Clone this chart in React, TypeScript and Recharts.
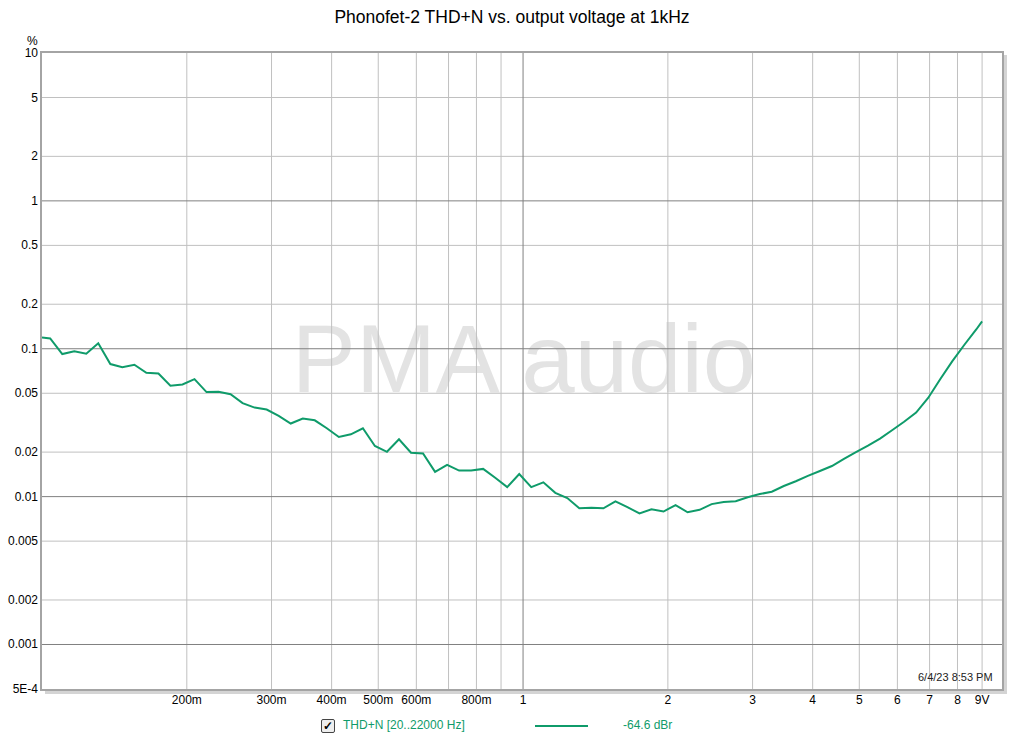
import React from 'react';
import { LineChart, Line, XAxis, YAxis, ReferenceLine } from 'recharts';

// output voltage (V) of each measured point
const voltages = [
  0.1, 0.104, 0.1102, 0.1167, 0.1236, 0.1309, 0.1387, 0.1469, 0.1556, 0.1648,
  0.1746, 0.1849, 0.1959, 0.2075, 0.2198, 0.2328, 0.2466, 0.2612, 0.2767, 0.2931,
  0.3105, 0.3289, 0.3484, 0.369, 0.3909, 0.4141, 0.4386, 0.4646, 0.4921, 0.5213,
  0.5522, 0.5849, 0.6196, 0.6563, 0.6952, 0.7364, 0.78, 0.8262, 0.8752, 0.927,
  0.982, 1.04, 1.102, 1.167, 1.236, 1.309, 1.387, 1.469, 1.556, 1.648,
  1.746, 1.849, 1.959, 2.075, 2.198, 2.328, 2.466, 2.612, 2.767, 2.931,
  3.105, 3.289, 3.484, 3.69, 3.909, 4.141, 4.386, 4.646, 4.921, 5.213,
  5.522, 5.849, 6.196, 6.563, 6.952, 7.364, 7.8, 8.262, 8.752, 9.0,
];

// THD+N in %
const thdn = [
  0.1193, 0.1175, 0.092, 0.096, 0.0925, 0.109, 0.0788, 0.0751, 0.0779, 0.0688,
  0.068, 0.0562, 0.0573, 0.0623, 0.0509, 0.0511, 0.0493, 0.0429, 0.04, 0.0388,
  0.0352, 0.0312, 0.0337, 0.0328, 0.029, 0.0253, 0.0264, 0.029, 0.022, 0.0201,
  0.0244, 0.0198, 0.0196, 0.0147, 0.0164, 0.015, 0.015, 0.0154, 0.0134, 0.0116,
  0.0142, 0.0116, 0.0125, 0.0106, 0.00977, 0.00833, 0.00842, 0.00833, 0.00928, 0.00848,
  0.00769, 0.00822, 0.00793, 0.00877, 0.00784, 0.00814, 0.0089, 0.00918, 0.0093, 0.0099,
  0.0104, 0.0108, 0.0118, 0.0127, 0.0138, 0.0149, 0.0161, 0.018, 0.02, 0.0221,
  0.0247, 0.0281, 0.0321, 0.037, 0.0465, 0.0622, 0.0822, 0.106, 0.135, 0.153,
];

const xTicks = [0.2, 0.3, 0.4, 0.5, 0.6, 0.8, 1, 2, 3, 4, 5, 6, 7, 8, 9];
const xTickLabels = ['200m', '300m', '400m', '500m', '600m', '800m', '1', '2', '3', '4', '5', '6', '7', '8', '9V'];
const xMinorGrid = [0.2, 0.3, 0.4, 0.5, 0.6, 0.7, 0.8, 0.9, 2, 3, 4, 5, 6, 7, 8, 9];
const xMajorGrid = [1];

const yTicks = [0.0005, 0.001, 0.002, 0.005, 0.01, 0.02, 0.05, 0.1, 0.2, 0.5, 1, 2, 5, 10];
const yTickLabels = ['5E-4', '0.001', '0.002', '0.005', '0.01', '0.02', '0.05', '0.1', '0.2', '0.5', '1', '2', '5', '10'];
const yMinorGrid = [0.002, 0.005, 0.02, 0.05, 0.2, 0.5, 2, 5];
const yMajorGrid = [0.001, 0.01, 0.1, 1];

const data = voltages.map((v, i) => ({ v, thd: thdn[i] }));

const GREEN = '#0f9b6a';
const FONT = '"Liberation Sans", Arial, sans-serif';

const XTick = (props: any) => {
  const { x, y, payload } = props;
  const idx = xTicks.indexOf(payload.value);
  return (
    <text x={x} y={y + 11} textAnchor="middle" fontSize={12} fontFamily={FONT} fill="#000">
      {xTickLabels[idx]}
    </text>
  );
};

const YTick = (props: any) => {
  const { x, y, payload } = props;
  const idx = yTicks.indexOf(payload.value);
  return (
    <text x={x} y={y + 4} textAnchor="end" fontSize={12} fontFamily={FONT} fill="#000">
      {yTickLabels[idx]}
    </text>
  );
};

export default function App() {
  return (
    <div style={{ position: 'absolute', left: 0, top: 0, width: 1024, height: 741, background: '#fff', fontFamily: FONT }}>
      <div style={{ position: 'absolute', left: 0, top: 7, width: 1024, textAlign: 'center', fontSize: 17.5 }}>
        Phonofet-2 THD+N vs. output voltage at 1kHz
      </div>
      <div style={{ position: 'absolute', left: 27, top: 34, fontSize: 12 }}>%</div>

      {/* watermark, behind the grid */}
      <div style={{ position: 'absolute', left: 0, top: 304, width: 1048, textAlign: 'center', fontSize: 96, color: '#e3e3e3', lineHeight: '110px' }}>
        PMA audio
      </div>

      <div style={{ position: 'absolute', left: 0, top: 0 }}>
        <LineChart width={1024} height={741} data={data} margin={{ top: 53, right: 22, bottom: 22, left: 0 }}>
          <XAxis
            dataKey="v"
            type="number"
            scale="log"
            domain={[0.1, 9.9]}
            allowDataOverflow
            ticks={xTicks}
            interval={0}
            tick={<XTick />}
            tickLine={false}
            axisLine={false}
            tickSize={0}
            tickMargin={4}
            height={30}
          />
          <YAxis
            type="number"
            scale="log"
            domain={[0.0005, 10]}
            allowDataOverflow
            ticks={yTicks}
            interval={0}
            tick={<YTick />}
            tickLine={false}
            axisLine={false}
            tickSize={0}
            tickMargin={4}
            width={42}
          />
          {xMinorGrid.map((g) => (
            <ReferenceLine key={'xm' + g} x={g} stroke="#c0c0c0" strokeWidth={1} />
          ))}
          {yMinorGrid.map((g) => (
            <ReferenceLine key={'ym' + g} y={g} stroke="#c0c0c0" strokeWidth={1} />
          ))}
          {xMajorGrid.map((g) => (
            <ReferenceLine key={'xM' + g} x={g} stroke="#808080" strokeWidth={1} />
          ))}
          {yMajorGrid.map((g) => (
            <ReferenceLine key={'yM' + g} y={g} stroke="#808080" strokeWidth={1} />
          ))}
          <Line
            type="linear"
            dataKey="thd"
            stroke={GREEN}
            strokeWidth={2}
            dot={false}
            isAnimationActive={false}
          />
        </LineChart>
      </div>

      {/* plot frame with shadow */}
      <div style={{ position: 'absolute', left: 1003, top: 55, width: 4, height: 639, background: '#d4d4d4' }} />
      <div style={{ position: 'absolute', left: 45, top: 690, width: 962, height: 4, background: '#d4d4d4' }} />
      <div style={{ position: 'absolute', left: 40, top: 51, width: 960, height: 636, border: '2px solid #a4a4a4', pointerEvents: 'none' }} />

      <div style={{ position: 'absolute', left: 918, top: 671, fontSize: 11, color: '#222' }}>6/4/23 8:53 PM</div>

      {/* legend */}
      <div style={{ position: 'absolute', left: 321, top: 719, width: 12, height: 12, border: '1px solid #444', borderRadius: 2, background: '#eee', fontSize: 12, lineHeight: '12px', textAlign: 'center', fontWeight: 'bold' }}>
        ✓
      </div>
      <div style={{ position: 'absolute', left: 343, top: 718, fontSize: 12, color: GREEN }}>THD+N [20..22000 Hz]</div>
      <div style={{ position: 'absolute', left: 535, top: 725, width: 53, height: 2, background: GREEN }} />
      <div style={{ position: 'absolute', left: 623, top: 718, fontSize: 12, color: GREEN }}>-64.6 dBr</div>
    </div>
  );
}
